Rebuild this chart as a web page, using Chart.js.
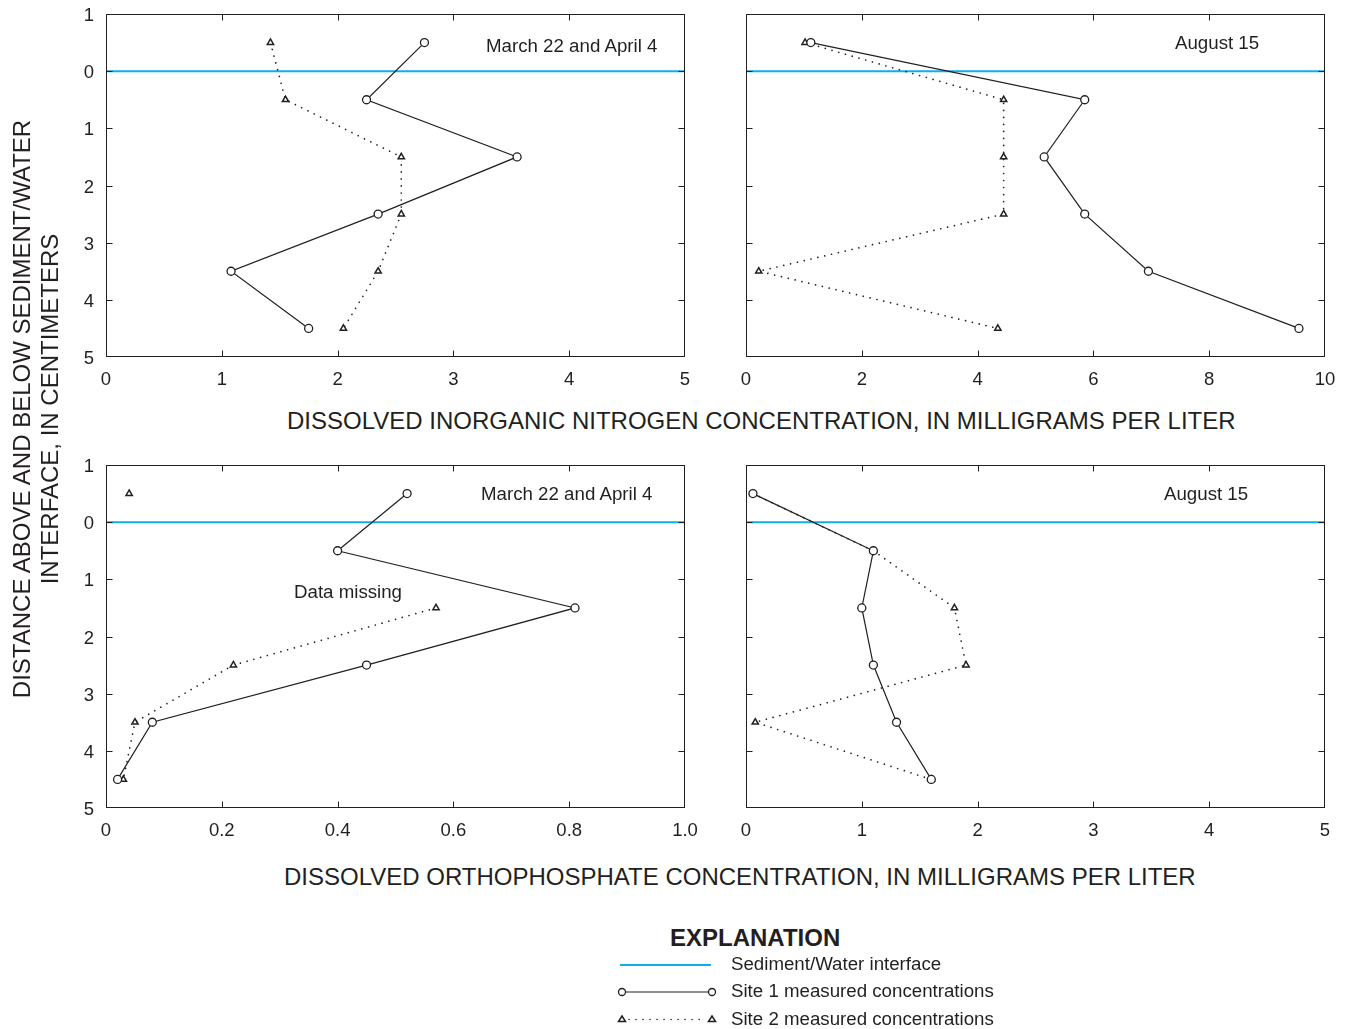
<!DOCTYPE html>
<html>
<head>
<meta charset="utf-8">
<script src="https://cdn.jsdelivr.net/npm/chart.js@4.4.1/dist/chart.umd.min.js"></script>
<style>
  html, body { margin: 0; padding: 0; background: #fff; }
  body { width: 1351px; height: 1029px; position: relative; overflow: hidden;
         font-family: "Liberation Sans", Arial, Helvetica, sans-serif; color: #231f20; }
  canvas { position: absolute; }
  .t { position: absolute; white-space: nowrap; line-height: 1; }
  .note { font-size: 18.7px; }
  .axt { font-size: 24px; }
  #ytitle { position: absolute; left: 36px; top: 409px; width: 800px; margin-left: -400px; margin-top: -28px;
            text-align: center; font-size: 24px; line-height: 28px; transform: rotate(-90deg); }
</style>
</head>
<body>
<canvas id="nSpring"></canvas>
<canvas id="nAugust"></canvas>
<canvas id="pSpring"></canvas>
<canvas id="pAugust"></canvas>

<div id="ytitle">DISTANCE ABOVE AND BELOW SEDIMENT/WATER<br>INTERFACE, IN CENTIMETERS</div>

<div class="t note" style="left:486px; top:37px;">March 22 and April 4</div>
<div class="t note" style="left:1175px; top:34px;">August 15</div>
<div class="t note" style="left:481px; top:485px;">March 22 and April 4</div>
<div class="t note" style="left:1164px; top:485px;">August 15</div>
<div class="t note" style="left:294px; top:583px;">Data missing</div>

<div class="t axt" style="left:287px; top:409px;">DISSOLVED INORGANIC NITROGEN CONCENTRATION, IN MILLIGRAMS PER LITER</div>
<div class="t axt" style="left:284px; top:865px;">DISSOLVED ORTHOPHOSPHATE CONCENTRATION, IN MILLIGRAMS PER LITER</div>

<!-- Explanation -->
<div class="t" style="left:670px; top:926px; font-size:24px; font-weight:bold;">EXPLANATION</div>
<svg style="position:absolute; left:0; top:0;" width="1351" height="1029">
  <line x1="620" y1="965" x2="711" y2="965" stroke="#0faee8" stroke-width="2"/>
  <line x1="622" y1="992" x2="712" y2="992" stroke="#231f20" stroke-width="1.2"/>
  <circle cx="622" cy="992" r="3.5" fill="#fff" stroke="#231f20" stroke-width="1.3"/>
  <circle cx="712" cy="992" r="3.5" fill="#fff" stroke="#231f20" stroke-width="1.3"/>
  <line x1="629" y1="1019.5" x2="706" y2="1019.5" stroke="#231f20" stroke-width="1.6" stroke-dasharray="0.01 7" stroke-linecap="round"/>
  <polygon points="618.5,1021.5 625.5,1021.5 622,1016" fill="#fff" stroke="#231f20" stroke-width="1.5"/>
  <polygon points="708.5,1021.5 715.5,1021.5 712,1016" fill="#fff" stroke="#231f20" stroke-width="1.5"/>
</svg>
<div class="t note" style="left:731px; top:955px;">Sediment/Water interface</div>
<div class="t note" style="left:731px; top:982px;">Site 1 measured concentrations</div>
<div class="t note" style="left:731px; top:1010px;">Site 2 measured concentrations</div>

<script>
// Sampling depths, in centimeters (negative = above the sediment/water interface)
const depthCm = [-0.5, 0.5, 1.5, 2.5, 3.5, 4.5];
const interfaceDepth = 0;

// Dissolved inorganic nitrogen, mg/L
const nitrogenSpringSite1 = [2.75, 2.25, 3.55, 2.35, 1.08, 1.75];
const nitrogenSpringSite2 = [1.42, 1.55, 2.55, 2.55, 2.35, 2.05];
const nitrogenAugustSite1 = [1.12, 5.85, 5.15, 5.85, 6.95, 9.55];
const nitrogenAugustSite2 = [1.02, 4.45, 4.45, 4.45, 0.22, 4.35];

// Dissolved orthophosphate, mg/L (null = data missing)
const phosphateSpringSite1 = [0.52, 0.40, 0.81, 0.45, 0.08, 0.02];
const phosphateSpringSite2 = [0.04, null, 0.57, 0.22, 0.05, 0.03];
const phosphateAugustSite1 = [0.06, 1.10, 1.00, 1.10, 1.30, 1.60];
const phosphateAugustSite2 = [0.06, 1.10, 1.80, 1.90, 0.08, 1.60];

// Axis ranges and tick steps
const depthMin = -1, depthMax = 5;
const nitrogenSpringMax = 5, nitrogenSpringStep = 1;
const nitrogenAugustMax = 10, nitrogenAugustStep = 2;
const phosphateSpringMax = 1.0, phosphateSpringStep = 0.2;
const phosphateAugustMax = 5, phosphateAugustStep = 1;

const INK = '#231f20';
const INTERFACE_COLOR = '#0faee8';
const FONT = '"Liberation Sans", Arial, Helvetica, sans-serif';

// Plot frame with inward tick marks and the sediment/water interface line
const framePlugin = {
  id: 'frame',
  beforeDatasetsDraw(chart) {
    const { ctx, chartArea: a, scales: { y } } = chart;
    const yi = y.getPixelForValue(interfaceDepth);
    ctx.save();
    ctx.strokeStyle = INTERFACE_COLOR;
    ctx.lineWidth = 2;
    ctx.beginPath();
    ctx.moveTo(a.left, yi);
    ctx.lineTo(a.right, yi);
    ctx.stroke();
    ctx.restore();
  },
  afterDatasetsDraw(chart) {
    const { ctx, chartArea: a, scales: { x, y } } = chart;
    const L = Math.round(a.left) + 0.5, R = Math.round(a.right) - 0.5;
    const T = Math.round(a.top) + 0.5, B = Math.round(a.bottom) - 0.5;
    const len = 6;
    ctx.save();
    ctx.strokeStyle = INK;
    ctx.lineWidth = 1;
    ctx.strokeRect(L, T, R - L, B - T);
    ctx.beginPath();
    x.ticks.forEach(t => {
      if (t.value <= x.min || t.value >= x.max) return;
      const px = Math.round(x.getPixelForValue(t.value)) + 0.5;
      ctx.moveTo(px, T); ctx.lineTo(px, T + len);
      ctx.moveTo(px, B); ctx.lineTo(px, B - len);
    });
    y.ticks.forEach(t => {
      if (t.value <= y.min || t.value >= y.max) return;
      const py = Math.round(y.getPixelForValue(t.value)) + 0.5;
      ctx.moveTo(L, py); ctx.lineTo(L + len, py);
      ctx.moveTo(R, py); ctx.lineTo(R - len, py);
    });
    ctx.stroke();
    ctx.restore();
  }
};

function points(values) {
  return values.map((v, i) => ({ x: v, y: depthCm[i] }));
}

function site1(values) {
  return {
    data: points(values), showLine: true, spanGaps: false,
    borderColor: INK, borderWidth: 1.2,
    pointStyle: 'circle', pointRadius: 4, pointBorderWidth: 1.3,
    pointBorderColor: INK, pointBackgroundColor: '#fff'
  };
}

function site2(values) {
  return {
    data: points(values), showLine: true, spanGaps: false,
    borderColor: INK, borderWidth: 1.7, borderDash: [0.01, 7], borderCapStyle: 'round',
    pointStyle: 'triangle', pointRadius: 3.6, pointBorderWidth: 1.5,
    pointBorderColor: INK, pointBackgroundColor: '#fff'
  };
}

function makePanel(id, box, s1, s2, xMax, xStep, showDepthLabels, xFormat) {
  const padL = 60, padT = 15, padR = 20, padB = 45;
  const cv = document.getElementById(id);
  cv.width = box.w + padL + padR;
  cv.height = box.h + padT + padB;
  cv.style.left = (box.left - padL) + 'px';
  cv.style.top = (box.top - padT) + 'px';
  new Chart(cv, {
    type: 'scatter',
    data: { datasets: [site1(s1), site2(s2)] },
    options: {
      responsive: false, animation: false, devicePixelRatio: 1,
      layout: { padding: { top: padT, right: padR, left: 0, bottom: 0 } },
      plugins: { legend: { display: false }, tooltip: { enabled: false } },
      scales: {
        x: {
          type: 'linear', min: 0, max: xMax,
          grid: { display: false, drawTicks: false }, border: { display: false },
          ticks: { stepSize: xStep, padding: 12, color: INK, font: { family: FONT, size: 18.5 },
                   maxRotation: 0, callback: xFormat },
          afterFit: s => { s.height = padB; s.paddingLeft = 0; s.paddingRight = 0; }
        },
        y: {
          type: 'linear', reverse: true, min: depthMin, max: depthMax,
          grid: { display: false, drawTicks: false }, border: { display: false },
          ticks: { display: showDepthLabels, stepSize: 1, padding: 12, labelOffset: 2, color: INK,
                   font: { family: FONT, size: 18.5 }, callback: v => String(Math.abs(v)) },
          afterFit: s => { s.width = padL; s.paddingTop = 0; s.paddingBottom = 0; }
        }
      }
    },
    plugins: [framePlugin]
  });
}

const intFmt = v => String(v);
const decFmt = v => (v === 0 ? '0' : v.toFixed(1));

makePanel('nSpring', { left: 106, top: 14, w: 579, h: 343 },
  nitrogenSpringSite1, nitrogenSpringSite2, nitrogenSpringMax, nitrogenSpringStep, true, intFmt);
makePanel('nAugust', { left: 746, top: 14, w: 579, h: 343 },
  nitrogenAugustSite1, nitrogenAugustSite2, nitrogenAugustMax, nitrogenAugustStep, false, intFmt);
makePanel('pSpring', { left: 106, top: 465, w: 579, h: 343 },
  phosphateSpringSite1, phosphateSpringSite2, phosphateSpringMax, phosphateSpringStep, true, decFmt);
makePanel('pAugust', { left: 746, top: 465, w: 579, h: 343 },
  phosphateAugustSite1, phosphateAugustSite2, phosphateAugustMax, phosphateAugustStep, false, intFmt);
</script>
</body>
</html>
